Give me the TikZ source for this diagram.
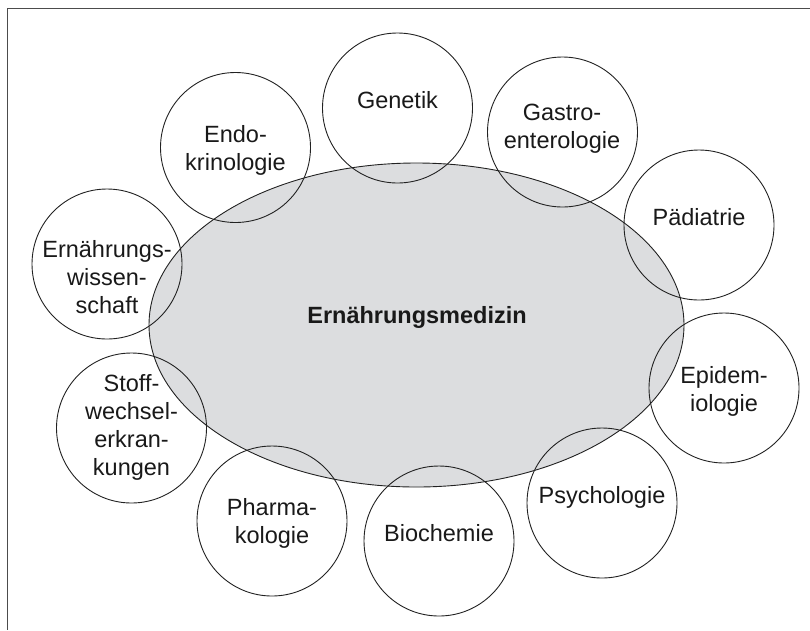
\documentclass[tikz,border=0pt]{standalone}
\usepackage{fontspec}
\setmainfont{Liberation Sans}
\usetikzlibrary{shapes.geometric}
\definecolor{corefill}{HTML}{DCDDDF}
\definecolor{inkline}{HTML}{222222}
\begin{document}
\begin{tikzpicture}[x=1pt,y=-1pt,
  topic/.style={circle,draw=inkline,line width=0.9pt,minimum size=150pt,inner sep=0pt},
  lbl/.style={align=center,inner sep=0pt,text=black!90,font=\fontsize{23.5}{28}\selectfont},
  corebox/.style={ellipse,draw=inkline,fill=corefill,line width=0.9pt,minimum width=535pt,minimum height=324pt,inner sep=0pt}]
\useasboundingbox (0,0) rectangle (810,630);
% frame
\coordinate (fr) at (810,8.5);
\coordinate (fc) at (7.5,8.5);
\coordinate (fb) at (7.5,630);
\draw[black!70,line width=1.3pt] (fr) -- (fc) -- (fb);
% central ellipse
\node[corebox] (core) at (416.5,325) {};
\node[lbl,font=\fontsize{23.5}{28}\selectfont\bfseries] (coret) at (417,318) {\strut Ernährungsmedizin};
% circles
\node[topic] (endo) at (235.5,147.5) {};
\node[topic] (gen) at (397.5,108) {};
\node[topic] (gas) at (562.5,132) {};
\node[topic] (pad) at (699,225) {};
\node[topic] (ews) at (107,264) {};
\node[topic] (stw) at (131.5,428) {};
\node[topic] (pha) at (272,521) {};
\node[topic] (bio) at (439,541) {};
\node[topic] (psy) at (602,503) {};
\node[topic] (epi) at (724,388) {};
% labels
\node[lbl] (endot) at (235.5,151) {\strut Endo-\\\strut krinologie};
\node[lbl] (gent) at (397.5,103) {\strut Genetik};
\node[lbl] (gast) at (562,128.5) {\strut Gastro-\\\strut enterologie};
\node[lbl] (padt) at (699,220) {\strut Pädiatrie};
\node[lbl] (ewst) at (107,280) {\strut Ernährungs-\\\strut wissen-\\\strut schaft};
\node[lbl] (stwt) at (131.5,427.5) {\strut Stoff-\\\strut wechsel-\\\strut erkran-\\\strut kungen};
\node[lbl] (phat) at (272,523.5) {\strut Pharma-\\\strut kologie};
\node[lbl] (biot) at (439,536) {\strut Biochemie};
\node[lbl] (psyt) at (602,498) {\strut Psychologie};
\node[lbl] (epit) at (724,391.5) {\strut Epidem-\\\strut iologie};
\end{tikzpicture}
\end{document}
